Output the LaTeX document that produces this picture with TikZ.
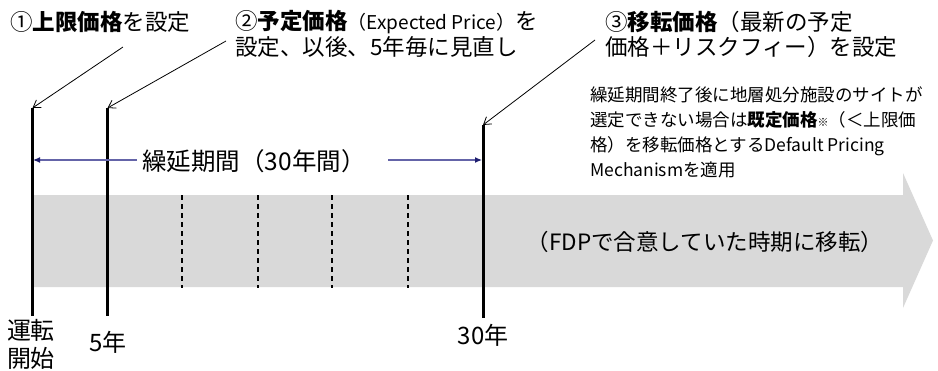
\documentclass[tikz,border=0pt]{standalone}
\usepackage{fontspec}
\setmainfont{Noto Sans CJK JP}
\usetikzlibrary{arrows.meta}
\definecolor{bandgray}{HTML}{D9D9D9}
\definecolor{spanline}{HTML}{6464A8}
\definecolor{spanhead}{HTML}{1F1F70}
\tikzset{
  txt/.style={inner sep=0pt, anchor=west, align=left},
  big/.style={font=\fontsize{22.5}{25}\selectfont},
  axis label/.style={font=\fontsize{24}{28}\selectfont},
  small/.style={font=\fontsize{17.5}{25}\selectfont},
  tick/.style={line width=3pt},
  pointer/.style={line width=0.8pt, -{Straight Barb[length=7pt,width=9pt]}},
  span/.style={spanline, line width=1.2pt, -{Latex[length=7pt,width=6pt,color=spanhead]}},
  period/.style={line width=1.3pt, dash pattern=on 5pt off 4pt}
}
\begin{document}
\begin{tikzpicture}[x=1pt,y=-1pt]
\useasboundingbox (0,0) rectangle (938,370);
% grey band arrow
\fill[bandgray] (33,195) -- (903,195) -- (903,173) -- (933,240.5) -- (903,308) -- (903,287) -- (33,287) -- cycle;
% dashed five-year marks
\foreach \xx in {182,258,332,408} \draw[period] (\xx,195) -- (\xx,288);
% vertical ticks
\coordinate (t0) at (32.5,108);  \coordinate (b0) at (32.5,316);
\coordinate (t5) at (107.5,108); \coordinate (b5) at (107.5,316);
\coordinate (t30) at (483,125);  \coordinate (b30) at (483,318);
\draw[tick] (t0) -- (b0);
\draw[tick] (t5) -- (b5);
\draw[tick] (t30) -- (b30);
% band text
\node[inner sep=0pt, font=\fontsize{22.5}{25}\selectfont] (band) at (705,242) {（FDPで合意していた時期に移転）};
% deferral span
\node[inner sep=0pt, font=\fontsize{24.5}{28}\selectfont] (defer) at (254,161) {繰延期間（30年間）};
\coordinate (s0) at (33,160); \coordinate (s30) at (482,160);
\coordinate (sl) at (137,160); \coordinate (sr) at (388,160);
\draw[span] (sl) -- (s0);
\draw[span] (sr) -- (s30);
% top labels
\node[txt, big] (l1) at (10,22) {①\textbf{上限価格}を設定};
\node[txt, big] (l2a) at (235,22) {②\textbf{予定価格}{\fontsize{19}{20}\selectfont （Expected Price）}を};
\node[txt, big] (l2b) at (235,47) {設定、以後、5年毎に見直し};
\node[txt, big] (l3a) at (605,22) {③\textbf{移転価格}（最新の予定};
\node[txt, big] (l3b) at (605,47) {価格＋リスクフィー）を設定};
\node[txt, small, anchor=north west] (note) at (590,86) {繰延期間終了後に地層処分施設のサイトが\\選定できない場合は\textbf{既定価格}{\fontsize{11}{11}\selectfont ※}（＜上限価\\格）を移転価格とするDefault Pricing\\Mechanismを適用};
% pointers
\coordinate (p1) at (123,47);
\coordinate (p2) at (226,41);
\coordinate (p3) at (595,40);
\draw[pointer] (p1) -- (t0);
\draw[pointer] (p2) -- (t5);
\draw[pointer] (p3) -- (t30);
% bottom labels
\node[inner sep=0pt, axis label, align=center, anchor=north] (start) at (31,319) {運転\\開始};
\node[inner sep=0pt, axis label] (y5) at (108,342) {5年};
\node[inner sep=0pt, axis label] (y30) at (483,335) {30年};
\end{tikzpicture}
\end{document}
